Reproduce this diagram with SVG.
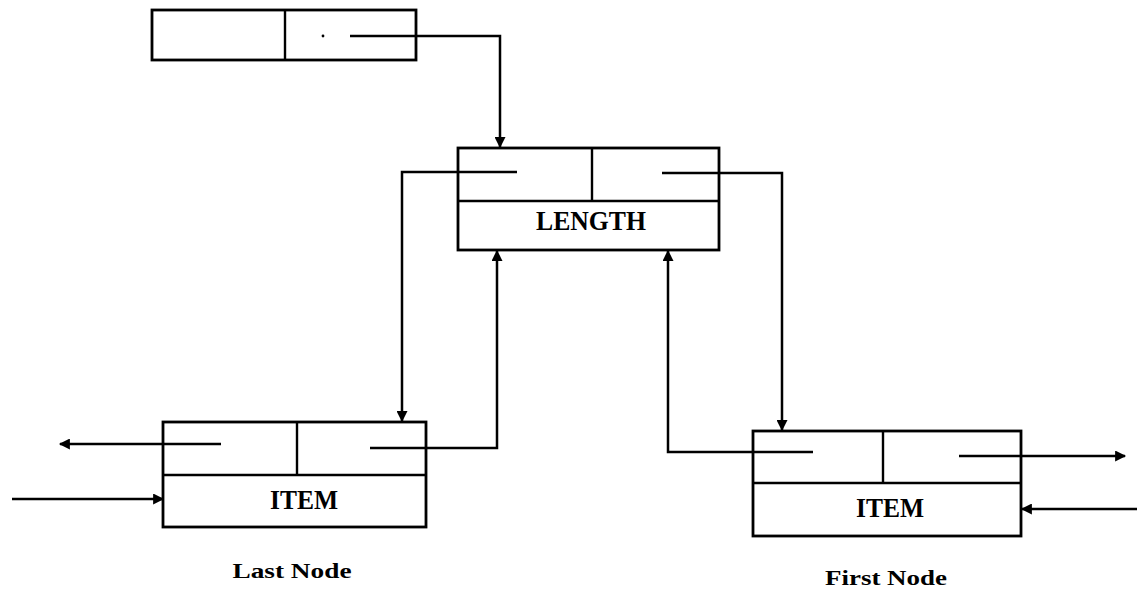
<svg xmlns="http://www.w3.org/2000/svg" width="1137" height="603" viewBox="0 0 1137 603">
<style>
.box{fill:#fff;stroke:#000;stroke-width:2.8}
.div{stroke:#000;stroke-width:2.4;fill:none}
.ln{stroke:#000;stroke-width:2.5;fill:none}
.lbl{font-family:"Liberation Serif",serif;font-weight:bold;fill:#000;text-anchor:middle}
</style>
<defs>
<marker id="ah" viewBox="0 0 10 10" refX="9" refY="5" markerWidth="5" markerHeight="4.4" orient="auto" markerUnits="strokeWidth">
<path d="M0,0 L10,5 L0,10 Z" fill="#000"/>
</marker>
</defs>
<rect width="1137" height="603" fill="#fff"/>
<g id="head">
<rect class="box" x="152" y="10" width="264" height="50"/>
<line class="div" x1="285" y1="10" x2="285" y2="60"/>
<circle cx="323" cy="36" r="1.4" fill="#000"/>
</g>
<g id="length">
<rect class="box" x="458" y="148" width="261" height="102"/>
<line class="div" x1="458" y1="201" x2="719" y2="201"/>
<line class="div" x1="592" y1="148" x2="592" y2="201"/>
<text class="lbl" x="591" y="230" font-size="27" textLength="110" lengthAdjust="spacingAndGlyphs">LENGTH</text>
</g>
<g id="last">
<rect class="box" x="163" y="422" width="263" height="105"/>
<line class="div" x1="163" y1="475" x2="426" y2="475"/>
<line class="div" x1="297" y1="422" x2="297" y2="475"/>
<text class="lbl" x="304" y="509" font-size="27" textLength="68" lengthAdjust="spacingAndGlyphs">ITEM</text>
<text class="lbl" x="292" y="578" font-size="21" textLength="119" lengthAdjust="spacingAndGlyphs">Last Node</text>
</g>
<g id="first">
<rect class="box" x="753" y="431" width="268" height="105"/>
<line class="div" x1="753" y1="483" x2="1021" y2="483"/>
<line class="div" x1="883" y1="431" x2="883" y2="483"/>
<text class="lbl" x="890" y="517" font-size="27" textLength="68" lengthAdjust="spacingAndGlyphs">ITEM</text>
<text class="lbl" x="886" y="585" font-size="21" textLength="122" lengthAdjust="spacingAndGlyphs">First Node</text>
</g>
<g id="connectors">
<polyline class="ln" points="350,36 500,36 500,147" marker-end="url(#ah)"/>
<polyline class="ln" points="517,172 402,172 402,421" marker-end="url(#ah)"/>
<polyline class="ln" points="662,173 782,173 782,430" marker-end="url(#ah)"/>
<polyline class="ln" points="370,448 497,448 497,251" marker-end="url(#ah)"/>
<polyline class="ln" points="813,452 668,452 668,251" marker-end="url(#ah)"/>
<line class="ln" x1="221" y1="444" x2="60" y2="444" marker-end="url(#ah)"/>
<line class="ln" x1="12" y1="499" x2="163" y2="499" marker-end="url(#ah)"/>
<line class="ln" x1="959" y1="456" x2="1125" y2="456" marker-end="url(#ah)"/>
<line class="ln" x1="1137" y1="509" x2="1022" y2="509" marker-end="url(#ah)"/>
</g>
</svg>
